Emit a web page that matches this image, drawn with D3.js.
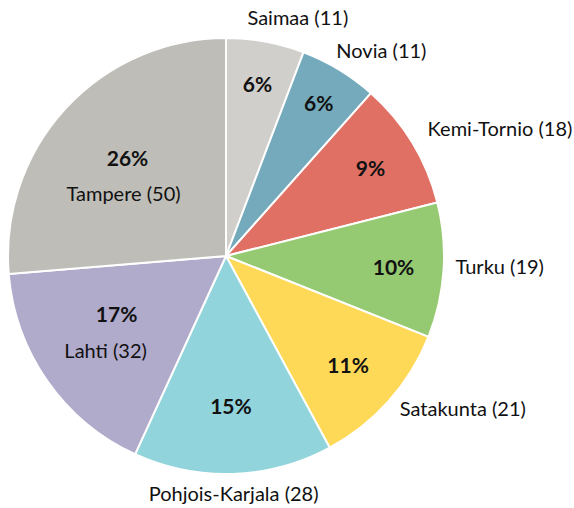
<!DOCTYPE html>
<html>
<head>
<meta charset="utf-8">
<script src="https://cdn.jsdelivr.net/npm/d3@7"></script>
<style>
  body { margin: 0; background: #fff; }
  text { font-family: Lato, "Open Sans", sans-serif; fill: #111; }
</style>
</head>
<body>
<div id="chart"></div>
<script>
// data
var names = ["Saimaa", "Novia", "Kemi-Tornio", "Turku", "Satakunta", "Pohjois-Karjala", "Lahti", "Tampere"];
var counts = [11, 11, 18, 19, 21, 28, 32, 50];
var colors = ["#d0cfcc", "#74aabb", "#e07064", "#95c972", "#fed957", "#92d4dc", "#b0aacb", "#bebdb8"];

// label placement (style only)
var pctRadius = [0.80, 0.82, 0.775, 0.77, 0.75, 0.69, 0.633, 0.59];
var pctTurn = [0, 0, 0, 0, 0, 0, 1.4, -4];      // degrees
var inside = [false, false, false, false, false, false, true, true];
var lineShift = [0, 0, 0, 0, 0, 0, 5.5, 2];      // inner two-line labels: pct right / name left
var outAlign = [0.2, 0.1, 0, 0, 0, 0.5, 0, 0];
var outDx = [0, 0, 5, 0, 2, 0, 0, 0];
var outDy = [-12, -9, -8, -5, -1, 8, 0, 0];

var width = 574, height = 508;
var cx = 226, cy = 256, R = 218;
var base = 2.5;
var total = d3.sum(counts);

var svg = d3.select("#chart").append("svg")
	.attr("width", width)
	.attr("height", height);

var g = svg.append("g").attr("transform", "translate(" + cx + "," + cy + ")");

var pie = d3.pie().sort(null).value(function (d) { return d; });
var arcs = pie(counts);

var arc = d3.arc().innerRadius(0).outerRadius(R);

g.selectAll(".slice")
	.data(arcs)
	.enter().append("path")
	.attr("class", "slice")
	.attr("d", arc)
	.style("fill", function (d, i) { return colors[i]; })
	.style("stroke", "#fff")
	.style("stroke-width", 2);

function mid(d) { return (d.startAngle + d.endAngle) / 2; }

// labels
arcs.forEach(function (d, i) {
	var a = mid(d) + pctTurn[i] * Math.PI / 180;
	var r = R * pctRadius[i];
	var x = r * Math.sin(a), y = -r * Math.cos(a) + base;
	var pct = Math.round(counts[i] / total * 100) + "%";
	if (inside[i]) {
		g.append("text")
			.attr("x", x + lineShift[i]).attr("y", y - 18)
			.attr("text-anchor", "middle")
			.attr("dominant-baseline", "middle")
			.style("font-size", "21px")
			.style("font-weight", "bold")
			.text(pct);
		g.append("text")
			.attr("x", x - lineShift[i]).attr("y", y + 18)
			.attr("text-anchor", "middle")
			.attr("dominant-baseline", "middle")
			.style("font-size", "20px")
			.text(names[i] + " (" + counts[i] + ")");
	} else {
		g.append("text")
			.attr("x", x).attr("y", y)
			.attr("text-anchor", "middle")
			.attr("dominant-baseline", "middle")
			.style("font-size", "21px")
			.style("font-weight", "bold")
			.text(pct);

		var ro = R + 12;
		var ma = mid(d);
		var ax = ro * Math.sin(ma), ay = -ro * Math.cos(ma);
		var t = g.append("text")
			.attr("y", ay + outDy[i] + base)
			.attr("dominant-baseline", "middle")
			.style("font-size", "20px")
			.text(names[i] + " (" + counts[i] + ")");
		var w = t.node().getComputedTextLength();
		t.attr("x", ax - outAlign[i] * w + outDx[i]);
	}
});
</script>
</body>
</html>
